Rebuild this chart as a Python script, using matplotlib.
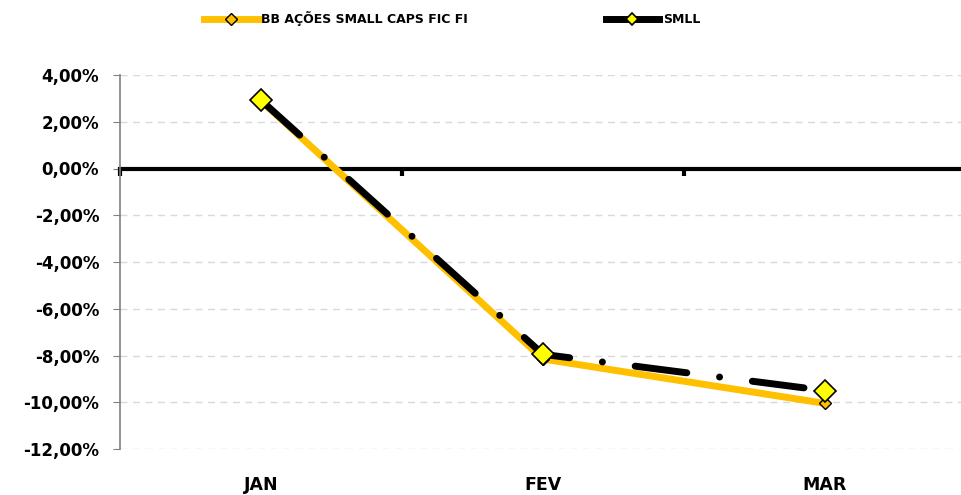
# Monthly return: BB Ações Small Caps FIC FI vs SMLL

import matplotlib.pyplot as plt
from matplotlib.ticker import FuncFormatter
from matplotlib.transforms import blended_transform_factory

MONTHS = ['JAN', 'FEV', 'MAR']
FUND_NAME = 'BB AÇÕES SMALL CAPS FIC FI'
INDEX_NAME = 'SMLL'
fund_values = [2.90, -8.15, -10.05]
index_values = [2.92, -7.95, -9.50]
y_ticks = [4, 2, 0, -2, -4, -6, -8, -10, -12]


def create():
    plt.rcParams['font.family'] = ['DejaVu Sans']
    plt.rcParams['font.weight'] = 'bold'

    fig = plt.figure(figsize=(9.62, 4.95), dpi=100)
    ax = fig.add_axes([120 / 962, 46 / 495, 846 / 962, 374 / 495])

    x = list(range(len(MONTHS)))
    ax.plot(x, fund_values, color='#FFC000', lw=5, marker='D', markersize=6,
            markerfacecolor='#FFC000', markeredgecolor='black', markeredgewidth=1,
            label=FUND_NAME, zorder=3)
    ax.plot(x, index_values, color='black', lw=5, ls=(0, (7.5, 4.75, 0.01, 4.75)),
            dash_capstyle='round', marker='D', markersize=11,
            markerfacecolor='#FFFF00', markeredgecolor='black', markeredgewidth=1.2,
            label=INDEX_NAME, zorder=4)

    ax.set_xlim(-0.5, 2.5)
    ax.set_ylim(-12, 4)
    ax.set_yticks(y_ticks)
    ax.yaxis.set_major_formatter(FuncFormatter(lambda v, p: f'{v:.2f}%'.replace('.', ',')))
    ax.tick_params(axis='y', length=5, color='#808080', labelsize=12, pad=10)
    ax.grid(axis='y', color='#D9D9D9', ls=(0, (5, 4)), lw=1)
    ax.set_axisbelow(True)

    for side in ['top', 'right']:
        ax.spines[side].set_visible(False)
    ax.spines['left'].set_color('#808080')
    ax.spines['left'].set_linewidth(1.2)
    ax.spines['bottom'].set_position(('data', 0))
    ax.spines['bottom'].set_linewidth(3)
    ax.spines['bottom'].set_zorder(2)

    # boundaries between months as ticks on the zero line
    ax.set_xticks([-0.5, 0.5, 1.5, 2.5])
    ax.set_xticklabels([])
    ax.tick_params(axis='x', direction='out', length=5, width=3, color='black')

    trans = blended_transform_factory(ax.transData, ax.transAxes)
    for i, m in enumerate(MONTHS):
        ax.text(i, -0.095, m, transform=trans, ha='center', va='center',
                fontsize=12.5, fontweight='bold')

    leg = fig.legend(loc='center', bbox_to_anchor=(0.47, 0.962), ncol=2, frameon=False,
                     fontsize=9, handlelength=4.3, columnspacing=11, handletextpad=0.3)
    for h in leg.legend_handles:
        h.set_markersize(6)
        h.set_linestyle('-')

    fig.savefig('out.png', dpi=100)


if __name__ == "__main__":
    create()
